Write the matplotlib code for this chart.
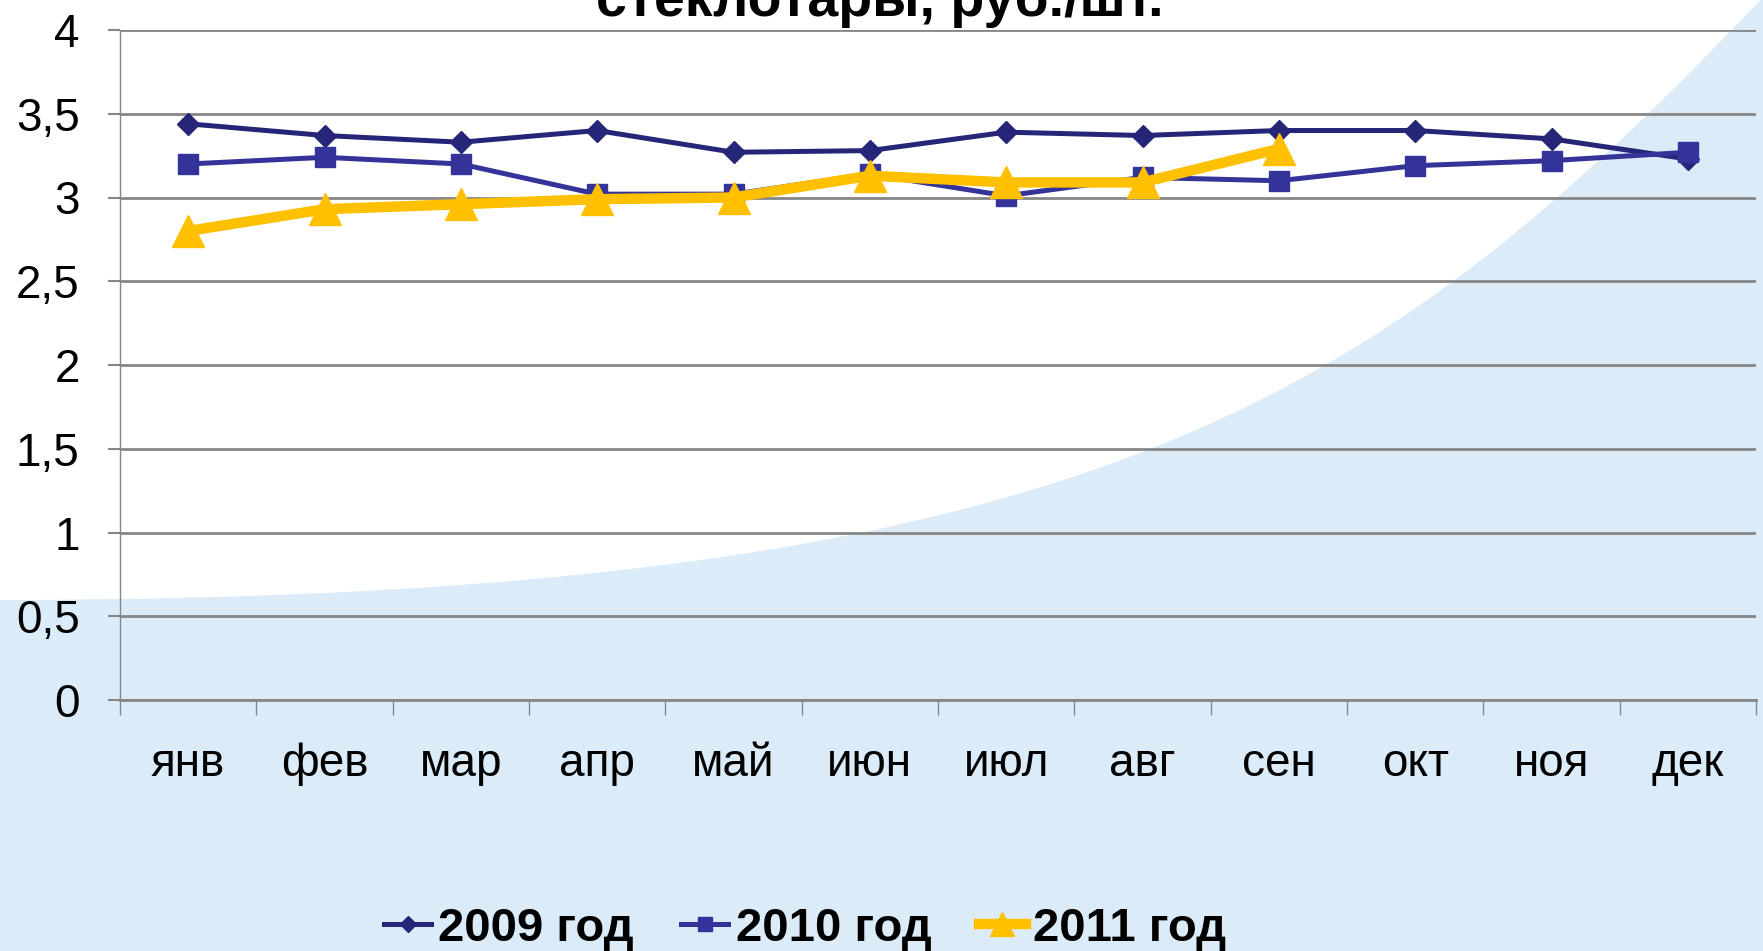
import matplotlib
matplotlib.use('Agg')
import matplotlib.pyplot as plt
from matplotlib.path import Path
from matplotlib.patches import PathPatch
from matplotlib.ticker import FixedLocator

plt.rcParams['font.family'] = ['Liberation Sans', 'DejaVu Sans']

# Data
months = ['янв', 'фев', 'мар', 'апр', 'май', 'июн', 'июл', 'авг', 'сен', 'окт', 'ноя', 'дек']
prices_2009 = [3.44, 3.37, 3.33, 3.40, 3.27, 3.28, 3.39, 3.37, 3.40, 3.40, 3.35, 3.23]
prices_2010 = [3.20, 3.24, 3.20, 3.02, 3.02, 3.14, 3.01, 3.12, 3.10, 3.19, 3.22, 3.27]
prices_2011 = [2.80, 2.93, 2.96, 2.99, 3.00, 3.13, 3.09, 3.09, 3.29]
y_ticks = [0, 0.5, 1, 1.5, 2, 2.5, 3, 3.5, 4]

W, H = 1763, 951
fig = plt.figure(figsize=(W / 100, H / 100), dpi=100)
fig.patch.set_facecolor('white')


def px(x, y):
    # figure pixel coords (from top-left) -> figure fraction
    return (x / W, 1 - y / H)


# Light blue background swoosh (decoration only)
verts = [px(-5, 600), px(1100, 600), px(1380, 400), px(1770, -10),
         px(1770, 960), px(-5, 960), px(-5, 600)]
codes = [Path.MOVETO, Path.CURVE4, Path.CURVE4, Path.CURVE4,
         Path.LINETO, Path.LINETO, Path.CLOSEPOLY]
fig.patches.append(PathPatch(Path(verts, codes), transform=fig.transFigure,
                             facecolor='#dcebf8', edgecolor='none', zorder=-5))

ax = fig.add_axes([120 / W, 1 - 700 / H, (1756 - 120) / W, 670 / H])
ax.set_facecolor('none')
ax.set_zorder(2)

x = list(range(len(months)))
ax.plot(x, prices_2009, color='#262678', lw=3.6, marker='D', ms=11,
        label='2009 год', zorder=3)
ax.plot(x, prices_2010, color='#333399', lw=3.6, marker='s', ms=14,
        label='2010 год', zorder=3)
ax.plot(x[:len(prices_2011)], prices_2011, color='#ffc000', lw=7.5, marker='^',
        ms=23, label='2011 год', zorder=4)

ax.set_xlim(-0.5, len(months) - 0.5)
ax.set_ylim(0, 4)
ax.set_yticks(y_ticks)
ax.set_yticklabels([f'{v:g}'.replace('.', ',') for v in y_ticks], fontsize=33)
ax.set_xticks(x)
ax.set_xticklabels(months, fontsize=33)
ax.xaxis.set_minor_locator(FixedLocator([i - 0.5 for i in range(len(months) + 1)]))
ax.tick_params(axis='x', which='major', length=0, pad=30)
ax.tick_params(axis='x', which='minor', length=11, width=1, color='#868686')
ax.tick_params(axis='y', length=9, width=1.5, color='#868686', pad=20)

ax.grid(axis='y', color='#868686', lw=2)
ax.set_axisbelow(True)
for side in ['top', 'right']:
    ax.spines[side].set_visible(False)
ax.spines['left'].set_color('#868686')
ax.spines['left'].set_linewidth(1)
ax.spines['bottom'].set_color('#868686')
ax.spines['bottom'].set_linewidth(2)

# Title is cut off at the top edge in the original
fig.text(880 / W, 1 - 16 / H, 'стеклотары, руб./шт.', fontsize=40,
         fontweight='bold', ha='center', va='baseline')

fig.legend(loc='center', bbox_to_anchor=(805 / W, 1 - 929 / H), ncol=3,
           frameon=False, prop={'size': 34, 'weight': 'bold'},
           handlelength=1.0, handletextpad=0.15, columnspacing=1.0,
           markerscale=0.75)

fig.savefig('out.png', dpi=100)
